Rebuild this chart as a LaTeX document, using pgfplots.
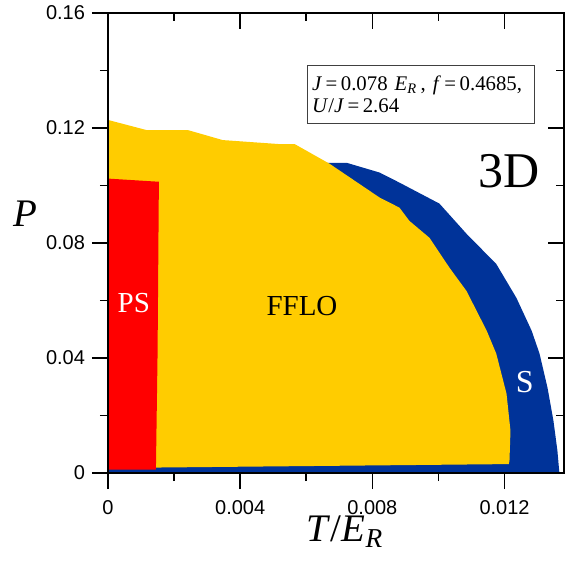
\documentclass[border=0pt]{standalone}
\usepackage{fontspec}
\setmainfont{Liberation Serif}
\newfontfamily\arial{Liberation Sans}
\usepackage{pgfplots}
\pgfplotsset{compat=1.18}
\definecolor{ffloyellow}{RGB}{255,204,0}
\definecolor{sblue}{RGB}{0,51,153}
\definecolor{psred}{RGB}{255,0,0}
\begin{document}
\begin{tikzpicture}
\begin{axis}[
  at={(0,0)}, anchor=south west,
  scale only axis, width=228pt, height=230pt,
  xmin=0, xmax=0.0138, ymin=0, ymax=0.16,
  scaled x ticks=false, scaled y ticks=false,
  axis on top,
  axis line style={line width=1pt},
  xtick={0,0.004,0.008,0.012},
  xticklabels={0,0.004,0.008,0.012},
  ytick={0,0.04,0.08,0.12,0.16},
  yticklabels={0,0.04,0.08,0.12,0.16},
  minor x tick num=1, minor y tick num=1,
  xtick pos=left, ytick pos=left,
  tick align=outside,
  major tick length=8pt, minor tick length=4pt,
  tick style={line width=0.8pt, black},
  tick label style={font=\arial\fontsize{10}{12}\selectfont},
  /pgf/number format/assume math mode=true,
  xticklabel style={yshift=-2pt},
  xlabel={\textit{T}/\textit{E}\textsubscript{\textit{R}}},
  ylabel={\textit{P}},
  label style={font=\fontsize{19.5}{23}\selectfont},
  xlabel style={at={(axis description cs:0.52,-0.127)}, anchor=center},
  ylabel style={at={(axis description cs:-0.182,0.563)}, anchor=center, rotate=-90},
]
% S region (blue)
\addplot[fill=sblue, draw=none] coordinates {
 (0,0) (0,0.100) (0.0062,0.1079) (0.00722,0.1079) (0.00822,0.1045) (0.00882,0.1010)
 (0.01003,0.0937) (0.01085,0.0832) (0.01175,0.0727) (0.01236,0.0609) (0.01282,0.0495)
 (0.01306,0.0415) (0.01330,0.0297) (0.01348,0.0182) (0.01360,0.0078) (0.01366,0)
} -- cycle;
% FFLO region (yellow)
\addplot[fill=ffloyellow, draw=none] coordinates {
 (0,0.0015) (0,0.1228) (0.00116,0.1193) (0.00241,0.1193) (0.00347,0.1158) (0.00519,0.1144)
 (0.00565,0.1144) (0.00670,0.1076) (0.00822,0.0958) (0.00882,0.0923) (0.00912,0.0877)
 (0.00973,0.0818) (0.01034,0.0713) (0.01085,0.0633) (0.01146,0.0495) (0.01175,0.0415)
 (0.01206,0.0276) (0.01218,0.0147) (0.01215,0.0043) (0.01213,0.0031) (0.0015,0.0019)
} -- cycle;
% PS region (red)
\addplot[fill=psred, draw=none] coordinates {
 (0,0.00115) (0,0.1024) (0.00154,0.1013) (0.00150,0.0415) (0.00145,0.00115)
} -- cycle;
\node[text=white, font=\fontsize{14.5}{16}\selectfont] at (axis cs:0.00078,0.0592) {PS};
\node[font=\fontsize{14.5}{16}\selectfont] at (axis cs:0.00587,0.0582) {FFLO};
\node[text=white, font=\fontsize{16}{18}\selectfont] at (axis cs:0.01261,0.0316) {S};
\node[font=\fontsize{25}{28}\selectfont] at (axis cs:0.01215,0.1051) {3D};
\node[anchor=north west, draw=black!75, fill=white, line width=0.6pt,
      inner xsep=2.5pt, text width=108.5pt, minimum height=29pt, align=left,
      font=\fontsize{10.4}{11}\selectfont]
  at (axis cs:0.00601,0.1420)
  {\textit{J}\,=\,0.078 \textit{E}\textsubscript{\textit{R}}\,, \textit{f}\,=\,0.4685,\\\textit{U}/\textit{J}\,=\,2.64};
\end{axis}
\begin{axis}[
  at={(0,0)}, anchor=south west,
  scale only axis, width=228pt, height=230pt,
  xmin=0, xmax=0.0138, ymin=0, ymax=0.16,
  scaled x ticks=false, scaled y ticks=false,
  axis line style={line width=1pt},
  xtick={0,0.004,0.008,0.012},
  ytick={0,0.04,0.08,0.12,0.16},
  xticklabels={}, yticklabels={},
  minor x tick num=1, minor y tick num=1,
  xtick pos=right, ytick pos=right,
  tick align=inside,
  major tick length=8pt, minor tick length=4pt,
  tick style={line width=0.8pt, black},
]
\end{axis}
\pgfresetboundingbox
\path[use as bounding box] (-54pt,-49.5pt) rectangle (228pt,236.5pt);
\end{tikzpicture}
\end{document}
